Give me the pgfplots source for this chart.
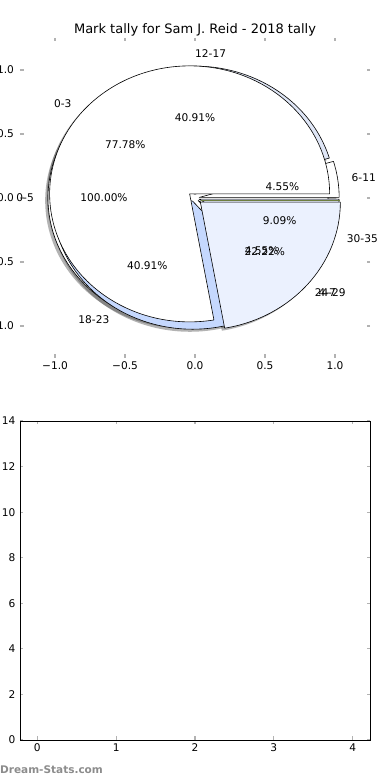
\documentclass[border=0pt]{standalone}
\usepackage{pgfplots}
\pgfplotsset{compat=1.18}
\usepackage{fontspec}
\setmainfont{DejaVu Sans}

\definecolor{lav}{HTML}{DFE6F6}
\definecolor{lblue}{HTML}{C5D8FE}
\definecolor{vlblue}{HTML}{EBF1FE}
\definecolor{olivez}{HTML}{6F7F3F}
\definecolor{wm}{HTML}{8C8C8C}

\newcommand{\lbl}{\fontsize{10.6}{12}\selectfont}
% slice: centre x, centre y, start angle, end angle, fill
\newcommand{\pieslice}[5]{%
  \filldraw[fill=#5,draw=black,line width=0.6pt,line join=round]
   (axis cs:#1,#2) -- (axis cs:{#1+cos(#3)},{#2+sin(#3)})
   arc[start angle=#3,end angle=#4,x radius=1,y radius=1] -- cycle;}
\newcommand{\pieshadow}[4]{%
  \fill[black!75,opacity=0.4]
   (axis cs:{#1-0.02},{#2-0.02}) -- (axis cs:{#1-0.02+cos(#3)},{#2-0.02+sin(#3)})
   arc[start angle=#3,end angle=#4,x radius=1,y radius=1] -- cycle;}

\begin{document}
\begin{tikzpicture}
\useasboundingbox (0,0) rectangle (390pt,780pt);
\node[font=\fontsize{13}{15}\selectfont] at (195pt,750pt) {Mark tally for Sam J. Reid - 2018 tally};

\begin{axis}[
  at={(20pt,422pt)}, anchor=south west,
  scale only axis, width=350pt, height=320pt,
  xmin=-1.25, xmax=1.25, ymin=-1.25, ymax=1.25,
  axis line style={draw=none},
  xtick={-1,-0.5,0,0.5,1}, xticklabels={−1.0,−0.5,0.0,0.5,1.0},
  ytick={-1,-0.5,0,0.5,1}, yticklabels={−1.0,−0.5,0.0,0.5,1.0},
  tick align=inside, major tick length=3.5pt,
  tick style={color=black!30, line width=1.1pt},
  ticklabel style={font=\lbl},
  yticklabel style={xshift=-2.5pt},
  clip=false,
]
% ---- shadows ----
\pieshadow{-0.05}{0}{0}{360}
\pieshadow{0.0297}{0.0043}{0}{16.364}
\pieshadow{0}{0.03}{16.364}{163.636}
\pieshadow{-0.0162}{-0.0252}{163.636}{310.909}
\pieshadow{0.0227}{-0.0196}{310.909}{327.273}
\pieshadow{0.0288}{-0.0085}{327.273}{360}
\pieshadow{-0.0383}{0.0321}{0}{280}
\pieshadow{0.0383}{-0.0321}{280}{360}
% ---- pie A: 0-5, 100% ----
\filldraw[fill=white,draw=black,line width=0.6pt] (axis cs:-0.05,0) ellipse[x radius=1,y radius=1];
% ---- pie C: 6-11 (1), 12-17 (9), 18-23 (9), 24-29 (1), 30-35 (2) of 22 ----
\pieslice{0.0297}{0.0043}{0}{16.364}{white}
\pieslice{0}{0.03}{16.364}{163.636}{lav}
\pieslice{-0.0162}{-0.0252}{163.636}{310.909}{lblue}
\pieslice{0.0227}{-0.0196}{310.909}{327.273}{white}
\pieslice{0.0288}{-0.0085}{327.273}{360}{lav}
% ---- pie B: 0-3 (77.78%), 4-7 (22.22%) ----
\pieslice{-0.0383}{0.0321}{0}{280}{white}
\pieslice{0.0383}{-0.0321}{280}{360}{vlblue}
\draw[olivez,line width=1.6pt] (axis cs:0.04,-0.019) -- (axis cs:1.035,-0.019);
% ---- labels ----
\node[anchor=east,inner sep=0pt,font=\lbl] at (axis cs:-1.15,0) {0-5};
\node[inner sep=0pt,font=\lbl] at (axis cs:-0.65,0) {100.00\%};
\node[anchor=west,inner sep=0pt,font=\lbl] at (axis cs:1.118,0.161) {6-11};
\node[inner sep=0pt,font=\lbl] at (axis cs:0.624,0.090) {4.55\%};
\node[anchor=west,inner sep=0pt,font=\lbl] at (axis cs:0,1.13) {12-17};
\node[inner sep=0pt,font=\lbl] at (axis cs:0,0.63) {40.91\%};
\node[anchor=east,inner sep=0pt,font=\lbl] at (axis cs:-0.611,-0.951) {18-23};
\node[inner sep=0pt,font=\lbl] at (axis cs:-0.341,-0.530) {40.91\%};
\node[anchor=west,inner sep=0pt,font=\lbl] at (axis cs:0.854,-0.740) {24-29};
\node[inner sep=0pt,font=\lbl] at (axis cs:0.476,-0.413) {4.55\%};
\node[anchor=west,inner sep=0pt,font=\lbl] at (axis cs:1.084,-0.318) {30-35};
\node[inner sep=0pt,font=\lbl] at (axis cs:0.605,-0.177) {9.09\%};
\node[anchor=east,inner sep=0pt,font=\lbl] at (axis cs:-0.881,0.739) {0-3};
\node[inner sep=0pt,font=\lbl] at (axis cs:-0.498,0.418) {77.78\%};
\node[anchor=west,inner sep=0pt,font=\lbl] at (axis cs:0.881,-0.739) {4-7};
\node[inner sep=0pt,font=\lbl] at (axis cs:0.498,-0.418) {22.22\%};
\end{axis}

\begin{axis}[
  at={(20pt,40pt)}, anchor=south west,
  scale only axis, width=350pt, height=319pt,
  xmin=-0.22, xmax=4.22, ymin=0, ymax=14,
  xtick={0,1,2,3,4}, ytick={0,2,4,6,8,10,12,14},
  axis line style={black, line width=0.9pt},
  tick align=inside, major tick length=3.5pt,
  tick style={color=black!30, line width=1.1pt},
  ticklabel style={font=\lbl},
  yticklabel style={xshift=-1pt},
  /pgf/number format/assume math mode=true,
]
\addplot[draw=none] coordinates {(0,0)};
\end{axis}

\node[anchor=west,inner sep=0pt,text=wm,font=\fontsize{10.5}{12}\selectfont\bfseries] at (0pt,10pt) {Dream-Stats.com};
\end{tikzpicture}
\end{document}
